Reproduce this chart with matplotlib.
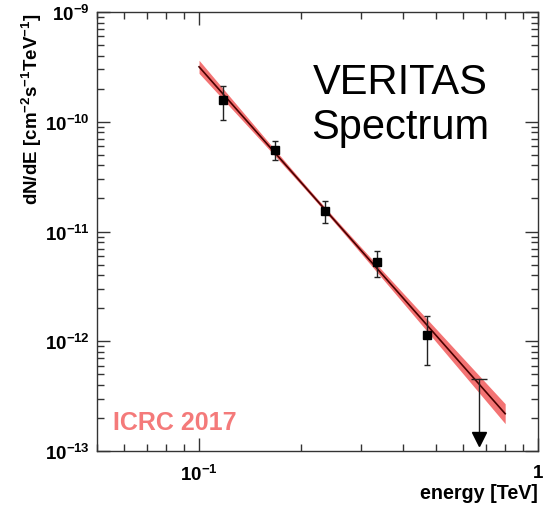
import numpy as np
import matplotlib
matplotlib.use("Agg")
import matplotlib.pyplot as plt
from matplotlib.ticker import FixedLocator, NullFormatter

plt.rcParams['font.family'] = ['Liberation Sans', 'DejaVu Sans']
plt.rcParams['mathtext.fontset'] = 'custom'
plt.rcParams['mathtext.rm'] = 'Liberation Sans'
plt.rcParams['mathtext.bf'] = 'Liberation Sans:bold'
plt.rcParams['mathtext.it'] = 'Liberation Sans:italic'

# --- data ---
energy = [0.118, 0.1675, 0.2354, 0.334, 0.4716]          # TeV
flux = [1.58e-10, 5.56e-11, 1.55e-11, 5.24e-12, 1.14e-12]  # cm^-2 s^-1 TeV^-1
flux_hi = [2.12e-10, 6.63e-11, 1.91e-11, 6.59e-12, 1.69e-12]
flux_lo = [1.04e-10, 4.48e-11, 1.19e-11, 3.88e-12, 6.08e-13]
ul_energy = [0.668]
ul_flux = [4.53e-13]
ul_arrow_tip = [1.29e-13]

# power-law fit parameters
fit_norm = 2.8e-11      # at E0
fit_E0 = 0.2            # TeV
fit_index = 3.5
fit_range = [0.1, 0.8]
band_const = 0.02       # decades
band_slope = 0.16       # decades per decade away from pivot
band_pivot = 0.224

fig = plt.figure(figsize=(5.49, 5.06), dpi=100)
ax = fig.add_axes([0.1767, 0.1067, 0.98 - 0.1767, 0.9743 - 0.1067])

E = np.logspace(np.log10(fit_range[0]), np.log10(fit_range[1]), 200)
logF = np.log10(fit_norm) - fit_index * np.log10(E / fit_E0)
dlog = np.sqrt(band_const**2 + (band_slope * np.log10(E / band_pivot))**2)
ax.fill_between(E, 10**(logF - dlog), 10**(logF + dlog), color='#f37373', lw=0, zorder=2)
ax.plot(E, 10**logF, color='#4a0000', lw=1.2, zorder=3)

yerr = [np.array(flux) - np.array(flux_lo), np.array(flux_hi) - np.array(flux)]
ax.errorbar(energy, flux, yerr=yerr, fmt='s', color='black', ms=6, ecolor='#222222',
            elinewidth=1.0, capsize=2.5, capthick=1.0, zorder=4)

# upper limit
for e, f, t in zip(ul_energy, ul_flux, ul_arrow_tip):
    ax.plot([e, e], [f, t], color='#222222', lw=1.0, zorder=4)
    ax.plot([e], [f], marker='_', ms=12, mew=1.0, color='#222222', zorder=4)
    ax.plot([e], [t], marker='v', ms=10, color='black', zorder=5)

ax.set_xscale('log')
ax.set_yscale('log')
ax.set_xlim(0.05, 1.0)
ax.set_ylim(1e-13, 1e-9)

ax.xaxis.set_major_locator(FixedLocator([0.1, 1.0]))
ax.xaxis.set_minor_locator(FixedLocator([0.05, 0.06, 0.07, 0.08, 0.09, 0.2, 0.3, 0.4, 0.5, 0.6, 0.7, 0.8, 0.9]))
ax.xaxis.set_minor_formatter(NullFormatter())
ax.set_xticklabels([r'$\mathbf{10^{-1}}$', r'$\mathbf{1}$'])

yt = [1e-13, 1e-12, 1e-11, 1e-10, 1e-9]
ax.yaxis.set_major_locator(FixedLocator(yt))
ax.set_yticklabels([r'$\mathbf{10^{-%d}}$' % k for k in [13, 12, 11, 10, 9]])
ax.yaxis.set_minor_locator(matplotlib.ticker.LogLocator(base=10, subs=np.arange(2, 10), numticks=20))
ax.yaxis.set_minor_formatter(NullFormatter())

ax.tick_params(which='both', direction='in', top=True, right=True, colors='#333333',
               labelcolor='black', width=1.0)
ax.tick_params(which='major', length=9.5, labelsize=13.5)
ax.tick_params(which='minor', length=5)
ax.tick_params(axis='y', which='major', pad=5)
ax.tick_params(axis='x', which='major', pad=9)
for s in ax.spines.values():
    s.set_color('#333333')
    s.set_linewidth(1.0)

fig.text(538 / 549, 6.5 / 506, 'energy [TeV]', fontsize=14.2, fontweight='bold',
         ha='right', va='baseline')
ax.set_ylabel(r'dN/dE [cm$^{\mathbf{-2}}$s$^{\mathbf{-1}}$TeV$^{\mathbf{-1}}$]', fontsize=13.5,
              fontweight='bold', loc='top', labelpad=1)

ax.text(0.687, 0.79, 'VERITAS\nSpectrum', transform=ax.transAxes, fontsize=30,
        ha='center', va='center', linespacing=1.15, color='black')
ax.text(0.036, 0.065, 'ICRC 2017', transform=ax.transAxes, fontsize=18,
        fontweight='bold', color='#f47a7a', ha='left', va='center')

fig.savefig('out.png', dpi=100)
